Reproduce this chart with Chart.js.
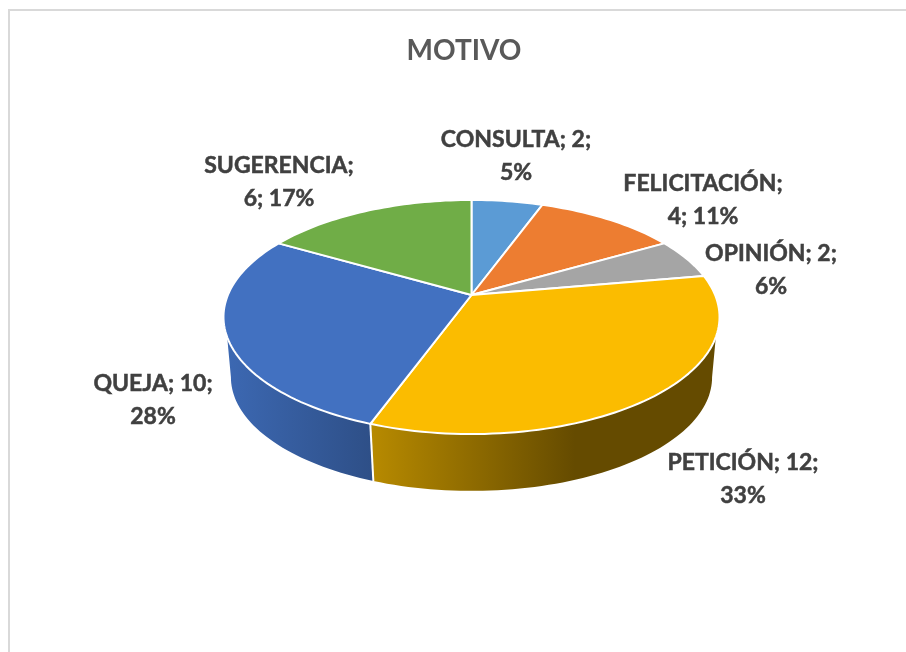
<!DOCTYPE html>
<html><head><meta charset="utf-8">
<style>html,body{margin:0;padding:0;background:#fff;overflow:hidden}#w{width:906px;height:652px;position:relative}</style>
<script src="https://cdn.jsdelivr.net/npm/chart.js@4"></script>
</head><body><div id="w"><canvas id="c" width="906" height="652"></canvas></div>
<script>
const categories = ['CONSULTA','FELICITACIÓN','OPINIÓN','PETICIÓN','QUEJA','SUGERENCIA'];
const values = [2,4,2,12,10,6];
const percents = [5,11,6,33,28,17];
const colors = ['#5B9BD5','#ED7D31','#A5A5A5','#FBBC00','#4271C1','#70AD47'];
const firstLineTokens = [2,1,2,2,2,1];
const title = 'MOTIVO';

// Perspective view of the pie disc
const V = {cx:471.5, cy:295, a:243.6, b:112.9, k:0.188, wallScale:0.97, wallDy:61};
const proj = (ang, wall) => {
  const u=Math.cos(ang), v=Math.sin(ang), d=1-V.k*v;
  const x=V.a*u/d, y=V.b*v/d;
  return wall ? [V.cx+x*V.wallScale, V.cy+V.wallDy+y*V.wallScale] : [V.cx+x, V.cy+y];
};
const labelPos = [[516,140],[703,184],[771,254],[743,463],[153,384],[279,166]];
const lineGap = 32.5;
const deg = d => d*Math.PI/180;
// visible silhouette of the wall (canvas angle, 0 = right, clockwise)
const rimTop = [deg(20.4), deg(159.6)], rimBottom = [deg(10.8), deg(169.2)];
const wallFills = {
  3:{from:372,to:575,stops:['#B78A00','#654B00']},
  4:{from:228,to:372,stops:['#3C68B2','#2E4F87']}
};

function trace(ctx, s, e, wall, first){
  const n=Math.max(2,Math.ceil(Math.abs(e-s)/deg(1.5)));
  for(let i=0;i<=n;i++){
    const p=proj(s+(e-s)*i/n,wall);
    if(i===0&&first) ctx.moveTo(p[0],p[1]); else ctx.lineTo(p[0],p[1]);
  }
}
const pie3d = {
  id:'pie3d',
  beforeDraw(chart){
    const c=chart.ctx; c.save();
    c.strokeStyle='#D9D9D9'; c.lineWidth=2;
    c.beginPath(); c.moveTo(9,652); c.lineTo(9,10); c.lineTo(906,10); c.stroke();
    c.restore();
  },
  beforeDatasetDraw(chart){
    const c=chart.ctx, arcs=chart.getDatasetMeta(0).data, ds=chart.data.datasets[0];
    c.save();
    // side walls
    arcs.forEach((arc,i)=>{
      const fill=wallFills[i]; if(!fill) return;
      const norm=a=>{let x=a;while(x<-Math.PI/2-1e-6)x+=2*Math.PI;return x;};
      const s=norm(arc.startAngle), e=norm(arc.endAngle);
      const ts=Math.max(s,rimTop[0]), te=Math.min(e,rimTop[1]);
      const bs=Math.max(s,rimBottom[0]), be=Math.min(e,rimBottom[1]);
      const g=c.createLinearGradient(fill.from,0,fill.to,0);
      g.addColorStop(0,fill.stops[0]); g.addColorStop(1,fill.stops[1]);
      c.beginPath(); trace(c,ts,te,false,true); trace(c,be,bs,true,false); c.closePath();
      c.fillStyle=g; c.fill();
    });
    // white seam between the walls
    const seam=chart.getDatasetMeta(0).data[3].endAngle;
    const p0=proj(seam,false), p1=proj(seam,true);
    c.strokeStyle='#fff'; c.lineWidth=2; c.beginPath(); c.moveTo(p0[0],p0[1]); c.lineTo(p1[0],p1[1]); c.stroke();
    // top faces
    arcs.forEach((arc,i)=>{
      c.beginPath(); c.moveTo(V.cx,V.cy); trace(c,arc.startAngle,arc.endAngle,false,false); c.closePath();
      c.fillStyle=ds.backgroundColor[i]; c.fill();
      c.strokeStyle=ds.borderColor; c.lineWidth=ds.borderWidth; c.lineJoin='round'; c.stroke();
    });
    c.restore();
    return false;
  },
  afterDatasetsDraw(chart){
    const c=chart.ctx; c.save();
    c.font='bold 23px Lato'; c.fillStyle='#404040'; c.strokeStyle='#404040'; c.lineWidth=0.5; c.textAlign='center'; c.textBaseline='middle';
    categories.forEach((cat,i)=>{
      const t=[cat+';',values[i]+';',percents[i]+'%'], n=firstLineTokens[i];
      const [x,y]=labelPos[i];
      [t.slice(0,n).join(' '),t.slice(n).join(' ')].forEach((s,j)=>{
        c.fillText(s,x,y+j*lineGap); c.strokeText(s,x,y+j*lineGap);
      });
    });
    c.restore();
  }
};
new Chart(document.getElementById('c'),{
  type:'pie',
  data:{labels:categories,datasets:[{data:values,backgroundColor:colors,borderColor:'#fff',borderWidth:2}]},
  options:{
    responsive:false,animation:false,
    layout:{padding:{left:22}},
    plugins:{
      legend:{display:false},tooltip:{enabled:false},
      title:{display:true,text:title,color:'#595959',font:{family:'Lato',size:28,weight:'bold'},padding:{top:34,bottom:10}}
    }
  },
  plugins:[pie3d]
});
</script></body></html>
